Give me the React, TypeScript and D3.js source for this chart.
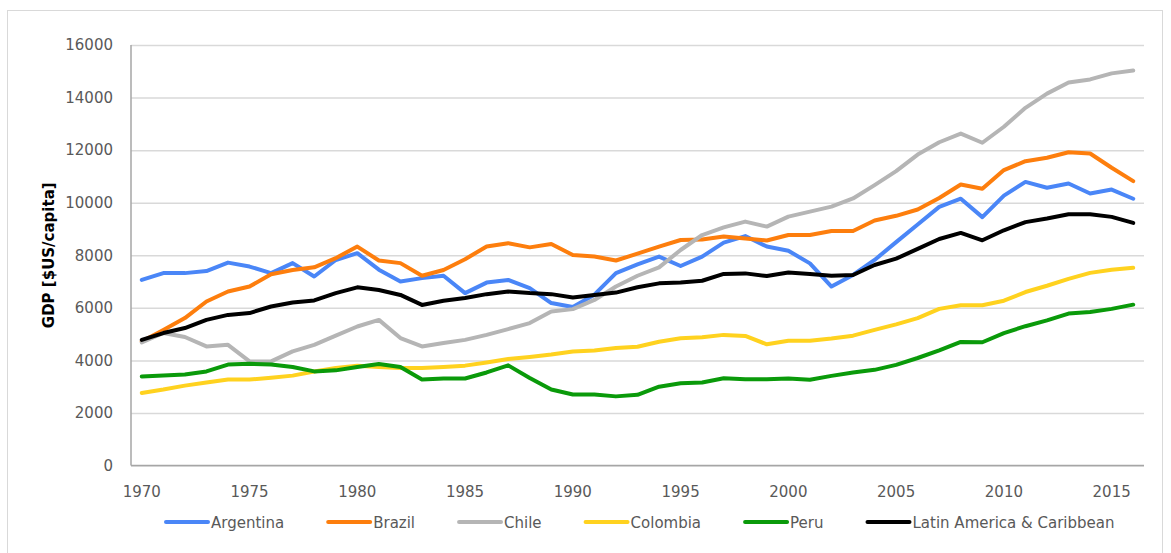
import React, { useEffect, useRef } from 'react';
import * as d3 from 'd3';

// years on the category axis
const years = d3.range(1970, 2017);

const yTicks = [0, 2000, 4000, 6000, 8000, 10000, 12000, 14000, 16000];
const xTickYears = [1970, 1975, 1980, 1985, 1990, 1995, 2000, 2005, 2010, 2015];

// GDP per capita [$US], 1970 - 2016
const argentina = [
  7060, 7320, 7320, 7400, 7720, 7570, 7320, 7700, 7190, 7820,
  8080, 7450, 7000, 7130, 7220, 6560, 6960, 7060, 6750, 6180,
  6030, 6500, 7320, 7650, 7950, 7590, 7950, 8480, 8730, 8330,
  8170, 7690, 6810, 7250, 7820, 8500, 9170, 9840, 10150, 9450,
  10270, 10790, 10570, 10730, 10350, 10500, 10150,
];
const brazil = [
  4720, 5160, 5610, 6240, 6620, 6810, 7280, 7440, 7540, 7890,
  8330, 7800, 7700, 7220, 7440, 7850, 8330, 8460, 8300, 8430,
  8010, 7950, 7800, 8060, 8330, 8580, 8600, 8710, 8640, 8560,
  8770, 8770, 8920, 8920, 9320, 9500, 9740, 10180, 10690, 10530,
  11240, 11580, 11710, 11920, 11870, 11330, 10820,
];
const chile = [
  4680, 5040, 4890, 4530, 4590, 3960, 3960, 4340, 4590, 4940,
  5290, 5540, 4850, 4530, 4660, 4780, 4970, 5190, 5420, 5860,
  5950, 6300, 6810, 7220, 7540, 8200, 8770, 9060, 9280, 9090,
  9470, 9660, 9850, 10160, 10670, 11200, 11830, 12300, 12630, 12280,
  12890, 13610, 14150, 14570, 14690, 14920, 15030,
];
const colombia = [
  2760, 2890, 3040, 3160, 3270, 3270, 3340, 3420, 3580, 3710,
  3800, 3750, 3710, 3710, 3750, 3800, 3920, 4050, 4130, 4220,
  4340, 4380, 4470, 4520, 4710, 4840, 4880, 4970, 4930, 4610,
  4750, 4750, 4830, 4940, 5160, 5370, 5610, 5960, 6100, 6100,
  6270, 6600, 6840, 7100, 7330, 7450, 7520,
];
const peru = [
  3390, 3420, 3460, 3580, 3840, 3870, 3840, 3750, 3580, 3620,
  3750, 3860, 3750, 3270, 3310, 3310, 3540, 3810, 3330, 2890,
  2700, 2700, 2630, 2690, 3000, 3130, 3160, 3320, 3280, 3280,
  3310, 3260, 3410, 3540, 3640, 3830, 4090, 4380, 4700, 4690,
  5040, 5300, 5520, 5780, 5840, 5960, 6120,
];
const latinAmerica = [
  4780, 5040, 5230, 5540, 5730, 5800, 6050, 6200, 6280, 6560,
  6780, 6680, 6490, 6110, 6270, 6370, 6520, 6620, 6560, 6520,
  6390, 6490, 6580, 6780, 6930, 6960, 7030, 7290, 7310, 7210,
  7340, 7290, 7220, 7250, 7630, 7870, 8240, 8620, 8850, 8570,
  8950, 9260, 9400, 9560, 9560, 9460, 9230,
];

const seriesNames = ['Argentina', 'Brazil', 'Chile', 'Colombia', 'Peru', 'Latin America & Caribbean'];
const seriesValues = [argentina, brazil, chile, colombia, peru, latinAmerica];
const seriesColors = ['#4a86f7', '#fd7e0d', '#b5b5b5', '#ffd21f', '#0a9a0a', '#000000'];

const W = 1171;
const H = 553;
const FONT = '"DejaVu Sans", sans-serif';

const App = () => {
  const svgRef = useRef<SVGSVGElement>(null);

  useEffect(() => {
    const svg = d3.select(svgRef.current);
    svg.selectAll('*').remove();

    const left = 131, right = 1144, top = 45, bottom = 465.5;

    // outer chart border
    svg.append('rect')
      .attr('x', 7.5).attr('y', 10.5)
      .attr('width', 1155).attr('height', 560)
      .attr('fill', '#fff').attr('stroke', '#d9d9d9');

    const x = d3.scaleBand<number>().domain(years).range([left, right]).paddingInner(0).paddingOuter(0);
    const xc = (yr: number) => (x(yr) as number) + x.bandwidth() / 2;
    const y = d3.scaleLinear().domain([0, 16000]).range([bottom, top]);

    // gridlines + y labels
    const yAxis = d3.axisLeft(y).tickValues(yTicks).tickFormat(d3.format('d'))
      .tickSize(-(right - left)).tickPadding(18);
    const gy = svg.append('g').attr('transform', `translate(${left},0)`).call(yAxis);
    gy.select('.domain').remove();
    gy.selectAll('.tick line').attr('stroke', '#d9d9d9').attr('stroke-width', 1.5);
    gy.selectAll('.tick text')
      .attr('fill', '#595959').style('font-family', FONT).style('font-size', '15px');

    // axis lines
    svg.append('line').attr('x1', left).attr('x2', left).attr('y1', top).attr('y2', bottom)
      .attr('stroke', '#a6a6a6').attr('stroke-width', 1.5);
    svg.append('line').attr('x1', left).attr('x2', right).attr('y1', bottom).attr('y2', bottom)
      .attr('stroke', '#a6a6a6').attr('stroke-width', 1.5);

    // x labels
    svg.append('g').selectAll('text').data(xTickYears).enter().append('text')
      .attr('x', (d) => xc(d)).attr('y', 497)
      .attr('text-anchor', 'middle')
      .attr('fill', '#595959').style('font-family', FONT).style('font-size', '15px')
      .text((d) => d);

    // y axis title
    svg.append('text')
      .attr('transform', `translate(54,${(top + bottom) / 2}) rotate(-90)`)
      .attr('text-anchor', 'middle')
      .style('font-family', FONT).style('font-size', '15px').style('font-weight', 'bold')
      .attr('fill', '#000')
      .text('GDP [$US/capita]');

    // lines
    const line = d3.line<number>().x((_, i) => xc(years[i])).y((d) => y(d));
    seriesValues.forEach((vals, i) => {
      svg.append('path')
        .datum(vals)
        .attr('d', line)
        .attr('fill', 'none')
        .attr('stroke', seriesColors[i])
        .attr('stroke-width', 4)
        .attr('stroke-linejoin', 'round')
        .attr('stroke-linecap', 'round');
    });

    // legend, laid out from text widths
    const legend = svg.append('g').attr('transform', 'translate(166,0)');
    let cx = 0;
    seriesNames.forEach((name, i) => {
      const g = legend.append('g').attr('transform', `translate(${cx},0)`);
      g.append('line').attr('x1', 0).attr('x2', 42).attr('y1', 522).attr('y2', 522)
        .attr('stroke', seriesColors[i]).attr('stroke-width', 4).attr('stroke-linecap', 'round');
      const t = g.append('text').attr('x', 45).attr('y', 527.5)
        .attr('fill', '#595959').style('font-family', FONT).style('font-size', '15px')
        .text(name);
      const tw = (t.node() as SVGTextElement).getComputedTextLength();
      cx += 45 + tw + 44;
    });
  }, []);

  return (
    <svg
      ref={svgRef}
      width={W}
      height={H}
      style={{ position: 'absolute', left: 0, top: 0, background: '#fff' }}
    />
  );
};

export default App;
